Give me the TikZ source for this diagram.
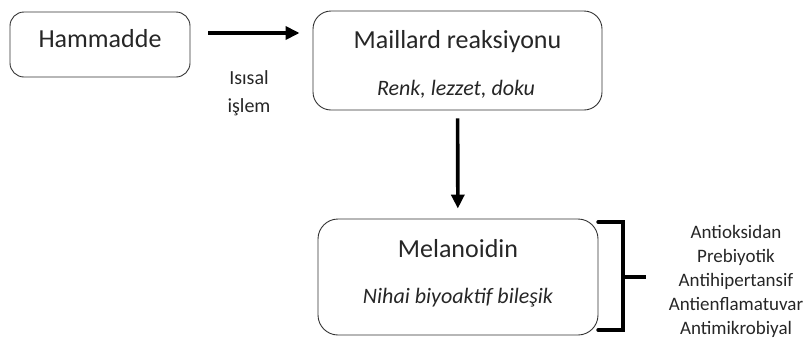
\documentclass[tikz,border=0pt]{standalone}
\usepackage{fontspec}
\setmainfont{Carlito}
\usetikzlibrary{arrows.meta}

\tikzset{
  box/.style={draw=black!80, line width=0.9pt, rounded corners=#1, inner sep=0pt},
  box/.default=14pt,
  head/.style={anchor=base, text=black!85, font=\fontsize{26}{30}\selectfont},
  sub/.style={anchor=base, text=black!85, font=\fontsize{22}{26}\itshape\selectfont},
  note/.style={anchor=base, text=black!85, font=\fontsize{20}{24}\selectfont},
  effect/.style={anchor=base, text=black!85, font=\fontsize{19}{24}\selectfont},
  flow/.style={line width=3.6pt, -{Triangle[length=14pt,width=13pt]}},
}

\begin{document}
\begin{tikzpicture}[x=1pt, y=-1pt]
			%%%%% START %%%%%
			\useasboundingbox (0, 0) rectangle (805, 338);
			
			\node[box, minimum width=180pt, minimum height=65pt] (raw) at (100, 44.5) {};
			\node[head] (rawtext) at (100, 47) {Hammadde};
			
			\node[box=18pt, minimum width=289pt, minimum height=99pt] (maillard) at (457.5, 60.5) {};
			\node[head] (maillardtext) at (457.5, 48) {Maillard reaksiyonu};
			\node[sub] (maillardsub) at (456, 95) {Renk, lezzet, doku};
			
			\node[box=20pt, minimum width=280pt, minimum height=116pt] (melanoidin) at (458, 277) {};
			\node[head] (melanoidintext) at (458, 257) {Melanoidin};
			\node[sub] (melanoidinsub) at (458, 303) {Nihai biyoaktif bileşik};
			
			\node[note] (heat1) at (249, 84) {Isısal};
			\node[note] (heat2) at (249, 112) {işlem};
			
			\draw[flow, shorten <=18pt, shorten >=13pt] (raw.east |- 0, 33) -- (maillard.west |- 0, 33);
			\draw[flow, shorten <=8pt, shorten >=10pt] (maillard) -- (melanoidin);
			
			% brace
			\draw[line width=3.4pt, line cap=round] (598, 222) -- (623, 222) -- (623, 330) -- (598, 330);
			\draw[line width=3.4pt] (623, 277) -- (646, 277);
			
			\node[effect] (e1) at (736, 238) {Antioksidan};
			\node[effect] (e2) at (736, 262) {Prebiyotik};
			\node[effect] (e3) at (736, 286) {Antihipertansif};
			\node[effect] (e4) at (736, 310) {Antienflamatuvar};
			\node[effect] (e5) at (736, 334) {Antimikrobiyal};
			
			%%%%% END %%%%%
\end{tikzpicture}
\end{document}
